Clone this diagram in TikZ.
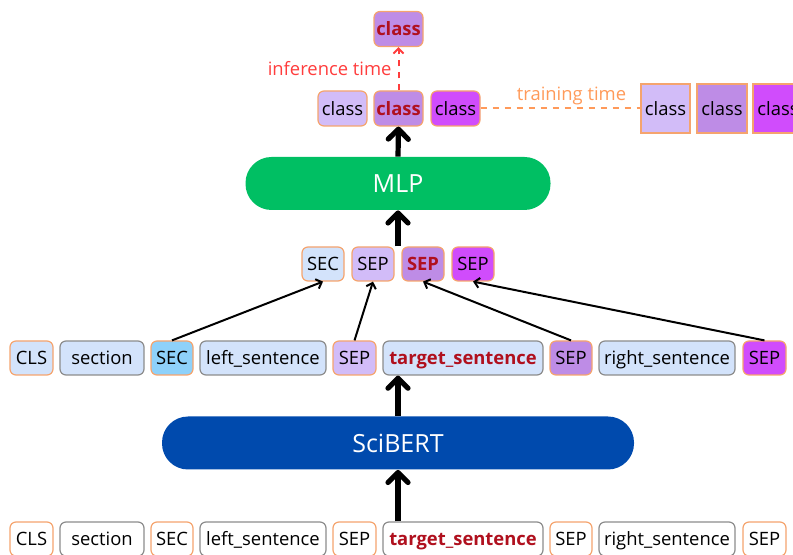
\documentclass[tikz,border=0pt]{standalone}
\usepackage{fontspec}
\setmainfont{Open Sans}
\usetikzlibrary{arrows.meta}

\definecolor{tokline}{HTML}{F5A46E}
\definecolor{sentline}{HTML}{8C8C8C}
\definecolor{paleblue}{HTML}{D3E3FB}
\definecolor{skyblue}{HTML}{8ED1FA}
\definecolor{lilac}{HTML}{D2BCF8}
\definecolor{midpurple}{HTML}{BE8CE6}
\definecolor{violet}{HTML}{D04CFC}
\definecolor{tgtred}{HTML}{B0101E}
\definecolor{mlpgreen}{HTML}{00BF63}
\definecolor{bertblue}{HTML}{004AAD}
\definecolor{infered}{HTML}{FF3D3D}
\definecolor{trainorange}{HTML}{FF9A5A}

\newcommand{\tgt}[1]{\textbf{\color{tgtred}#1}}

\tikzset{
  wd/.style={minimum width=#1*0.5pt},
  tok/.style={draw=tokline, fill=white, line width=0.6pt, rounded corners=3pt,
    minimum height=17pt, inner sep=0pt, text height=7.6pt, text depth=1pt,
    font=\fontsize{9.2}{11}\selectfont},
  sent/.style={tok, draw=sentline},
  pill/.style={rounded corners=13pt, minimum height=26.5pt, text=white,
    font=\fontsize{12.5}{15}\selectfont},
  thick arrow/.style={line width=2.6pt, -{Straight Barb[length=5pt,width=10pt,round]}},
  thin arrow/.style={line width=1pt, -{Straight Barb[length=2.5pt,width=5pt]}},
}

\begin{document}
\begin{tikzpicture}[x=0.5pt, y=-0.5pt]
    \useasboundingbox (0,0) rectangle (793,555);
    \clip (0,0) rectangle (793,555);

    % Input tokens (bottom row)
    \node[tok, wd=43] (clsA) at (31.5,539) {CLS};
    \node[sent, wd=84] (secA) at (102,539) {section};
    \node[tok, wd=42] (secTokA) at (172,539) {SEC};
    \node[sent, wd=126] (leftA) at (263,539) {left\_sentence};
    \node[tok, wd=43] (sepLA) at (354.5,539) {SEP};
    \node[sent, wd=160] (tgtA) at (463,539) {\tgt{target\_sentence}};
    \node[tok, wd=42] (sepTA) at (571,539) {SEP};
    \node[sent, wd=136] (rightA) at (667,539) {right\_sentence};
    \node[tok, wd=43] (sepRA) at (764.5,539) {SEP};

    % Encoder
    \node[pill, fill=bertblue, wd=472] (bert) at (398,443) {SciBERT};

    % Contextual embeddings
    \node[tok, fill=paleblue, wd=43] (clsB) at (31.5,358) {CLS};
    \node[sent, fill=paleblue, wd=84] (secB) at (102,358) {section};
    \node[tok, fill=skyblue, wd=42] (secTokB) at (172,358) {SEC};
    \node[sent, fill=paleblue, wd=126] (leftB) at (263,358) {left\_sentence};
    \node[tok, fill=lilac, wd=43] (sepLB) at (354.5,358) {SEP};
    \node[sent, fill=paleblue, wd=160] (tgtB) at (463,358) {\tgt{target\_sentence}};
    \node[tok, fill=midpurple, wd=42] (sepTB) at (571,358) {SEP};
    \node[sent, fill=paleblue, wd=136] (rightB) at (667,358) {right\_sentence};
    \node[tok, fill=violet, wd=43] (sepRB) at (764.5,358) {SEP};

    % Concatenated features
    \node[tok, fill=paleblue, wd=42] (secC) at (323,264) {SEC};
    \node[tok, fill=lilac, wd=42] (sepLC) at (373,264) {SEP};
    \node[tok, fill=midpurple, wd=42] (sepTC) at (423,264) {\tgt{SEP}};
    \node[tok, fill=violet, wd=42] (sepRC) at (473,264) {SEP};

    % Classifier
    \node[pill, fill=mlpgreen, wd=305] (mlp) at (398,183.5) {MLP};

    % Outputs
    \node[tok, fill=lilac, wd=49, minimum height=17.5pt] (clsL) at (342.5,108.5) {class};
    \node[tok, fill=midpurple, wd=49, minimum height=17.5pt] (clsT) at (398.5,108.5) {\tgt{class}};
    \node[tok, fill=violet, wd=49, minimum height=17.5pt] (clsR) at (455.5,108.5) {class};
    \node[tok, fill=midpurple, wd=49, minimum height=17.5pt] (clsOut) at (398.5,29) {\tgt{class}};

    \node[tok, fill=lilac, wd=49, minimum height=24.5pt, rounded corners=0pt] (trainL) at (665.5,108.5) {class};
    \node[tok, fill=midpurple, wd=50, minimum height=24.5pt, rounded corners=0pt] (trainT) at (722,108.5) {class};
    \node[tok, fill=violet, wd=50, minimum height=24.5pt, rounded corners=0pt] (trainR) at (778,108.5) {class};

    % Main flow
    \coordinate (featTop) at (mlp.south |- secC.north);
    \draw[thick arrow] (bert.south |- tgtA.north) -- (bert.south);
    \draw[thick arrow] (bert.north) -- (bert.north |- tgtB.south);
    \draw[thick arrow] (featTop) -- (mlp.south);
    \draw[thick arrow] (mlp.north) -- (clsT.south);

    % Token selection
    \draw[thin arrow] (secTokB.north) -- (secC.south);
    \draw[thin arrow] (sepLB.north) -- (sepLC.south);
    \draw[thin arrow] (sepTB.north) -- (sepTC.south);
    \draw[thin arrow] (sepRB.north) -- (sepRC.south);

    % Inference vs training
    \draw[infered, dashed, line width=1pt, -{Straight Barb[length=2.5pt,width=5pt]}]
        (clsT.north) -- node[left, inner sep=3pt, font=\fontsize{9.2}{11}\selectfont] {inference time} (clsOut.south);
    \draw[trainorange, dashed, line width=1pt]
        (clsR.east) -- node[above, xshift=5.5pt, inner sep=1.5pt, font=\fontsize{9.2}{11}\selectfont] {training time} (trainL.west);
\end{tikzpicture}
\end{document}
